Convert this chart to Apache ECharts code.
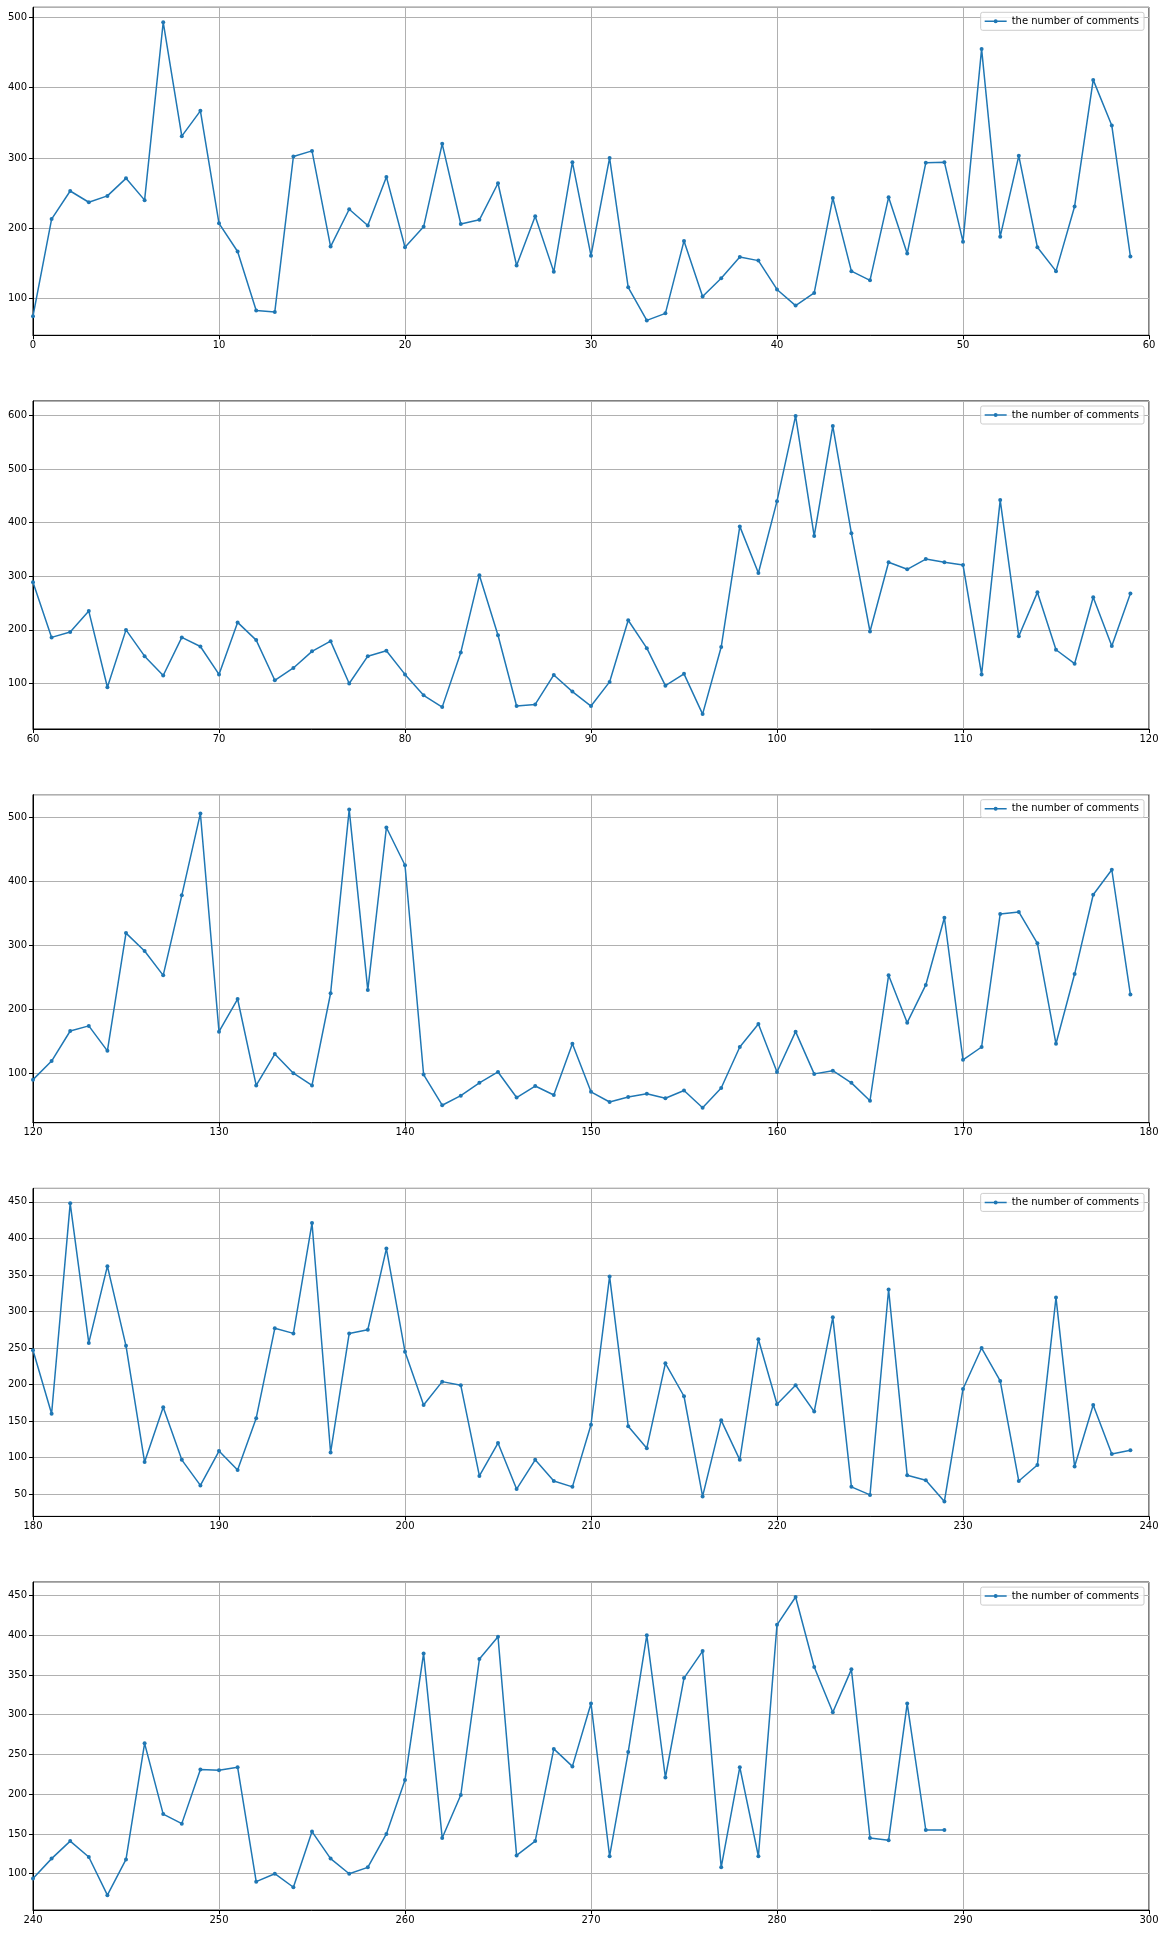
<!DOCTYPE html>
<html>
<head>
<meta charset="utf-8">
<script src="https://cdn.jsdelivr.net/npm/echarts@6/dist/echarts.min.js"></script>
<style>
html,body{margin:0;padding:0;background:#fff;}
#chart{width:1166px;height:1934px;}
</style>
</head>
<body>
<div id="chart"></div>
<script>
const seriesName = 'the number of comments';
const xStarts = [0, 60, 120, 180, 240];
const xEnds = [60, 120, 180, 240, 300];
const xTickStep = 10;
const yTickSteps = [100, 100, 100, 50, 50];

const comments0 = [75,213,253,237,246,271,240,493,331,367,
  207,167,83,81,302,310,174,227,204,273,
  173,202,320,206,212,264,147,217,138,294,
  161,300,116,69,79,182,103,129,159,154,
  113,90,108,243,139,126,244,164,293,294,
  181,455,188,303,173,139,231,411,346,160];
const comments1 = [289,186,196,235,93,200,151,115,186,169,
  117,214,181,106,129,160,179,100,151,161,
  117,78,56,158,302,190,58,61,116,85,
  58,103,218,166,96,118,43,168,393,306,
  440,599,375,580,380,197,326,313,332,326,
  321,117,442,188,270,163,137,261,170,268];
const comments2 = [90,119,166,174,135,319,291,253,378,506,
  165,216,81,130,100,81,225,512,230,484,
  425,98,50,65,85,102,62,80,66,146,
  71,55,63,68,61,73,46,77,141,177,
  102,165,99,104,85,57,253,179,238,343,
  121,141,349,352,303,146,255,379,418,223];
const comments3 = [247,160,448,257,362,253,94,169,97,62,
  109,83,154,277,270,421,107,270,275,386,
  245,172,204,199,75,120,57,97,68,60,
  145,348,143,113,229,184,47,151,97,262,
  173,199,163,292,60,49,330,76,69,40,
  194,250,205,68,90,319,88,172,105,110];
const comments4 = [94,119,141,121,73,118,264,175,163,231,
  230,234,90,100,83,153,119,100,108,150,
  218,377,145,199,370,398,123,141,257,235,
  314,122,253,400,221,346,380,108,234,122,
  413,448,360,303,357,145,142,314,155,155];

const panels = [comments0, comments1, comments2, comments3, comments4];

const FONT = 'DejaVu Sans';
const BLUE = '#1f77b4';
const PANEL_TOP0 = 7.3, PANEL_PITCH = 393.7, PANEL_H = 328;
const LEGEND_ICON = 'path://M0,1.25L22,1.25L22,2.75L0,2.75Z M9,2A2,2 0 1 1 13,2A2,2 0 1 1 9,2Z';

const grids = [], xAxes = [], yAxes = [], series = [], legends = [];
panels.forEach((vals, i) => {
  const top = PANEL_TOP0 + PANEL_PITCH * i;
  const lo = Math.min(...vals), hi = Math.max(...vals);
  const pad = (hi - lo) * 0.05;
  const step = yTickSteps[i];
  grids.push({left: 33, width: 1116, top: top, height: PANEL_H,
    show: true, borderColor: '#000', borderWidth: 1, backgroundColor: 'transparent'});
  xAxes.push({
    type: 'value', gridIndex: i, min: xStarts[i], max: xEnds[i], interval: xTickStep,
    axisLine: {show: true, onZero: false, lineStyle: {color: '#000', width: 1}},
    axisTick: {show: true, length: 4, lineStyle: {color: '#000', width: 1}},
    axisLabel: {color: '#000', fontSize: 10, fontFamily: FONT, margin: 5,
      showMinLabel: true, showMaxLabel: true},
    splitLine: {show: true, lineStyle: {color: '#b0b0b0', width: 1}}
  });
  yAxes.push({
    type: 'value', gridIndex: i, min: lo - pad, max: hi + pad,
    minInterval: step, maxInterval: step,
    axisLine: {show: true, onZero: false, lineStyle: {color: '#000', width: 1}},
    axisTick: {show: true, length: 4, lineStyle: {color: '#000', width: 1}},
    axisLabel: {color: '#000', fontSize: 10, fontFamily: FONT, margin: 6,
      showMinLabel: false, showMaxLabel: false,
      formatter: function (v) {
        const r = v / step;
        return Math.abs(r - Math.round(r)) < 1e-6 ? String(Math.round(v)) : '';
      }},
    splitLine: {show: true, lineStyle: {color: '#b0b0b0', width: 1}}
  });
  series.push({
    name: seriesName, type: 'line', xAxisIndex: i, yAxisIndex: i,
    data: vals.map((v, k) => [xStarts[i] + k, v]),
    symbol: 'circle', symbolSize: 4, showSymbol: true,
    lineStyle: {color: BLUE, width: 1.5},
    itemStyle: {color: BLUE},
    emphasis: {disabled: true},
    animation: false
  });
  legends.push({
    data: [{name: seriesName, icon: LEGEND_ICON}], right: 22, top: top + 5,
    orient: 'horizontal',
    padding: [3, 5, 3, 4],
    itemWidth: 22, itemHeight: 4,
    itemStyle: {color: BLUE, borderWidth: 0},
    borderColor: '#cccccc', borderWidth: 1, borderRadius: 2,
    backgroundColor: 'rgba(255,255,255,0.8)',
    textStyle: {color: '#000', fontSize: 10, fontFamily: FONT, lineHeight: 12},
    selectedMode: false
  });
});

const chart = echarts.init(document.getElementById('chart'), null, {renderer: 'canvas'});
chart.setOption({
  animation: false,
  backgroundColor: '#fff',
  textStyle: {fontFamily: FONT},
  grid: grids, xAxis: xAxes, yAxis: yAxes, series: series, legend: legends
});
</script>
</body>
</html>
